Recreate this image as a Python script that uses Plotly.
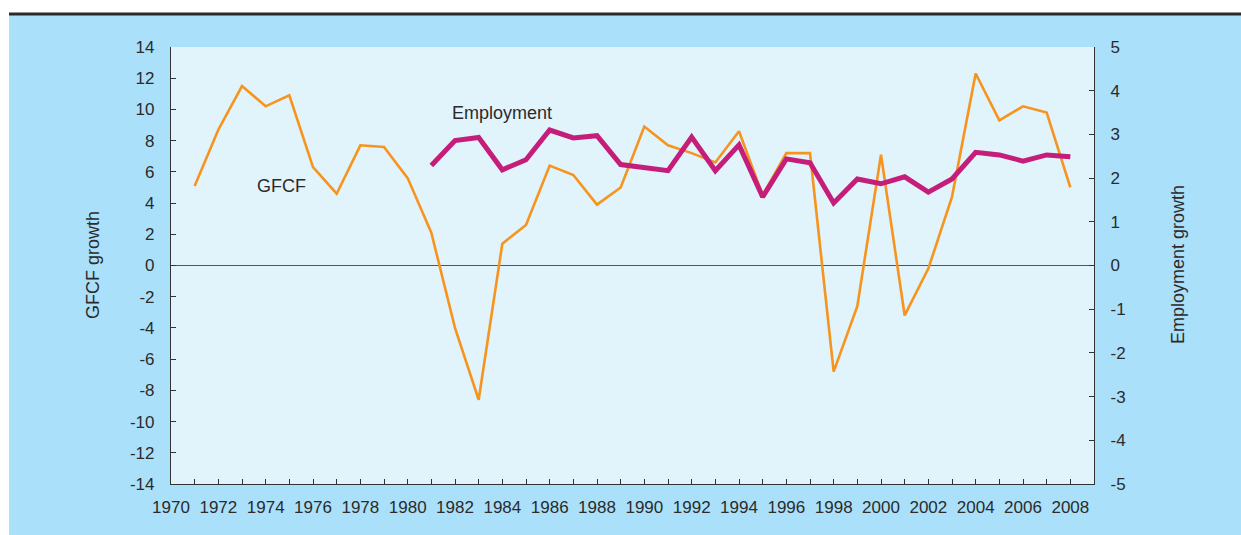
import plotly.graph_objects as go

gfcf_years = list(range(1971, 2009))
gfcf = [5.1, 8.7, 11.5, 10.2, 10.9, 6.3, 4.6, 7.7, 7.6, 5.6,
        2.1, -4.0, -8.6, 1.4, 2.6, 6.4, 5.8, 3.9, 5.0, 8.9,
        7.7, 7.2, 6.6, 8.6, 4.5, 7.2, 7.2, -6.8, -2.6, 7.1,
        -3.2, -0.2, 4.4, 12.3, 9.3, 10.2, 9.8, 5.0]

emp_years = list(range(1981, 2009))
employment = [2.29, 2.86, 2.93, 2.19, 2.42, 3.10, 2.92, 2.97, 2.31, 2.24,
              2.17, 2.94, 2.17, 2.76, 1.57, 2.44, 2.35, 1.43, 1.98, 1.87,
              2.03, 1.68, 1.98, 2.59, 2.53, 2.39, 2.53, 2.49]

x_labels = list(range(1970, 2009, 2))
left_ticks = list(range(-14, 15, 2))
right_ticks = list(range(-5, 6, 1))

W, H = 1241, 535
L, R, T, B = 171, 1094, 47, 484
pw, ph = R - L, B - T

def px(x):
    return (x - L) / pw

def py(y):
    return (B - y) / ph

font = "Liberation Sans, Arial, sans-serif"
txt = "#2b2b2b"

fig = go.Figure()
fig.add_trace(go.Scatter(x=gfcf_years, y=gfcf, mode="lines",
                         line=dict(color="#f7941d", width=2.6), yaxis="y",
                         showlegend=False))
fig.add_trace(go.Scatter(x=emp_years, y=employment, mode="lines",
                         line=dict(color="#c41e7a", width=5), yaxis="y2",
                         showlegend=False))

fig.update_layout(
    width=W, height=H,
    margin=dict(l=L, r=W - R, t=T, b=H - B, pad=0),
    paper_bgcolor="#abe0fa",
    plot_bgcolor="#e1f3fb",
    font=dict(family=font, size=17, color=txt),
    xaxis=dict(range=[1970, 2009], tickvals=x_labels, ticktext=[str(v) for v in x_labels],
               ticks="inside", ticklen=5, tickcolor="#333", showgrid=False,
               zeroline=False, showline=True, linecolor="#333", linewidth=1.2,
               ticklabelstandoff=7,
               minor=dict(dtick=1, tick0=1970, ticks="inside", ticklen=5, tickcolor="#333",
                          showgrid=False)),
    yaxis=dict(range=[-14, 14], tickvals=left_ticks,
               ticktext=[str(v) for v in left_ticks], ticks="inside", ticklen=5,
               tickcolor="#333", showgrid=False, zeroline=True, zerolinecolor="#555",
               zerolinewidth=1, showline=True, linecolor="#333", linewidth=1.2,
               ticklabelstandoff=12),
    yaxis2=dict(range=[-5, 5], tickvals=right_ticks, ticktext=[str(v) for v in right_ticks],
                overlaying="y", side="right",
                ticks="inside", ticklen=5, tickcolor="#333", showgrid=False,
                zeroline=False, showline=True, linecolor="#333", linewidth=1.2,
                ticklabelstandoff=12),
    shapes=[
        dict(type="rect", xref="paper", yref="paper", x0=px(-5), x1=px(W + 5),
             y0=py(-5), y1=py(13), fillcolor="white", line=dict(width=0)),
        dict(type="rect", xref="paper", yref="paper", x0=px(-5), x1=px(9),
             y0=py(-5), y1=py(H + 5), fillcolor="white", line=dict(width=0)),
        dict(type="line", xref="paper", yref="paper", x0=px(9), x1=px(W + 5),
             y0=py(14), y1=py(14), line=dict(color="#2a2a2a", width=3)),
    ],
    annotations=[
        dict(text="GFCF growth", xref="paper", yref="paper", x=px(93), y=py(265),
             xanchor="center", yanchor="middle",
             textangle=-90, showarrow=False, font=dict(size=18, color=txt)),
        dict(text="Employment growth", xref="paper", yref="paper", x=px(1178), y=py(265),
             xanchor="center", yanchor="middle",
             textangle=-90, showarrow=False, font=dict(size=18, color=txt)),
        dict(text="GFCF", xref="paper", yref="paper", x=px(281), y=py(186),
             xanchor="center", yanchor="middle",
             showarrow=False, font=dict(size=18, color=txt)),
        dict(text="Employment", xref="paper", yref="paper", x=px(502), y=py(113),
             xanchor="center", yanchor="middle",
             showarrow=False, font=dict(size=18, color=txt)),
    ],
)

fig.write_html("out.html", config={"displayModeBar": False},
               post_script="document.body.style.margin='0';document.body.style.padding='0';")
